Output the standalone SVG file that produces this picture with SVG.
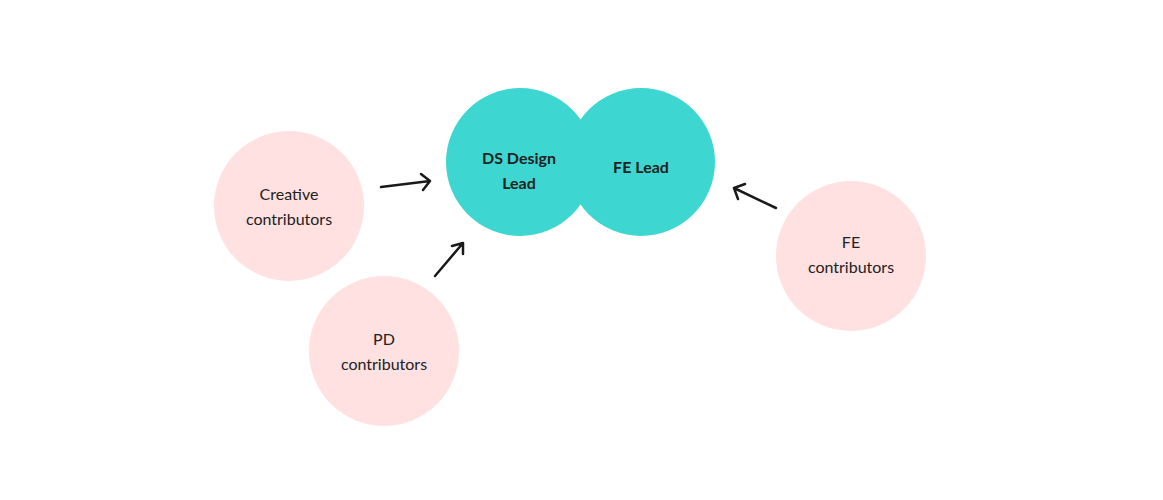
<svg xmlns="http://www.w3.org/2000/svg" width="1163" height="500" viewBox="0 0 1163 500">
<style>
.lead{fill:#3DD6D0}
.contrib{fill:#FFE1E1}
text{font-family:Lato,"Noto Sans",sans-serif;font-size:16px;fill:#222;text-anchor:middle}
.b{font-weight:bold}
.arr{stroke:#1a1a1a;stroke-width:2.5;fill:none;stroke-linecap:round;stroke-linejoin:round}
</style>
<rect width="1163" height="500" fill="#fff"/>
<g id="ds-design-lead">
<circle class="lead" cx="520" cy="162" r="74"/>
<text class="b" x="519" y="164">DS Design</text>
<text class="b" x="519" y="189">Lead</text>
</g>
<g id="fe-lead">
<circle class="lead" cx="641" cy="162" r="74"/>
<text class="b" x="641" y="173">FE Lead</text>
</g>
<g id="creative-contributors">
<circle class="contrib" cx="289" cy="206" r="75"/>
<text x="289" y="200">Creative</text>
<text x="289" y="225">contributors</text>
</g>
<g id="pd-contributors">
<circle class="contrib" cx="384" cy="351" r="75"/>
<text x="384" y="345">PD</text>
<text x="384" y="370">contributors</text>
</g>
<g id="fe-contributors">
<circle class="contrib" cx="851" cy="256" r="75"/>
<text x="851" y="248">FE</text>
<text x="851" y="273">contributors</text>
</g>
<g id="connectors">
<path class="arr" d="M381 187 L430 181 M421 174 L430 181 L423 190"/>
<path class="arr" d="M435 276 L463 243 M452 246 L463 243 L463 254"/>
<path class="arr" d="M776 208 L734 188 M738 199 L734 188 L745 184"/>
</g>
</svg>
